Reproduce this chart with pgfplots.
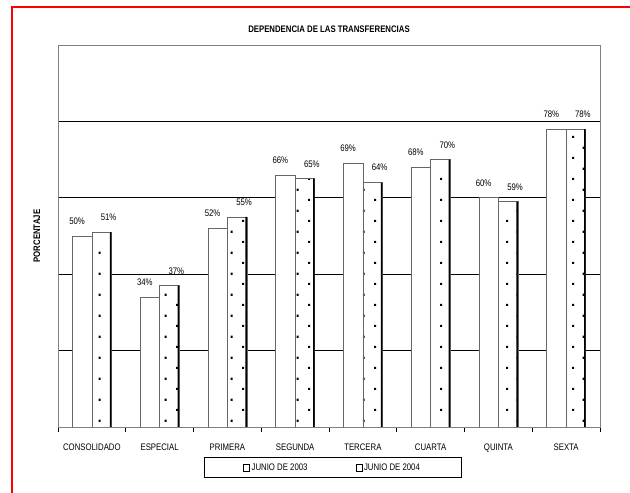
\documentclass[border=0pt]{standalone}
\usepackage{pgfplots}
\pgfplotsset{compat=1.18}
\usetikzlibrary{patterns}
\usepackage{fontspec}
\setmainfont{Liberation Sans}[FakeStretch=0.82]
\pgfdeclarepatternformonly{sparsedots}{\pgfpointorigin}{\pgfpoint{22pt}{20.6pt}}{\pgfpoint{22pt}{20.6pt}}{%
  \pgfpathrectangle{\pgfpoint{0pt}{0pt}}{\pgfpoint{2.2pt}{2.2pt}}%
  \pgfpathrectangle{\pgfpoint{11pt}{10.3pt}}{\pgfpoint{2.2pt}{2.2pt}}%
  \pgfusepath{fill}}
\begin{document}
\fontsize{9.5pt}{11pt}\selectfont
\begin{tikzpicture}
\path[use as bounding box] (0,0) rectangle (630pt,493pt);
\draw[red, line width=2pt] (12pt,-5pt) -- (12pt,486pt) -- (640pt,486pt);
\begin{axis}[
  at={(58pt,66pt)}, anchor=south west,
  scale only axis, width=542pt, height=382pt,
  xmin=-0.5, xmax=7.5, ymin=0, ymax=100,
  axis line style={draw=gray, line width=0.8pt},
  ytick={20,40,60,80}, yticklabels={}, ymajorgrids,
  grid style={black, line width=0.6pt},
  major y tick style={draw=none},
  xtick={0,...,7},
  xticklabels={CONSOLIDADO,ESPECIAL,PRIMERA,SEGUNDA,TERCERA,CUARTA,QUINTA,SEXTA},
  major x tick style={draw=none},
  minor xtick={-0.5,0.5,...,7.5},
  minor x tick style={black, line width=0.6pt},
  minor tick length=5pt, tick align=outside,
  xtick pos=bottom, ytick pos=left,
  xticklabel style={anchor=base, yshift=-19pt},
  ylabel={\bfseries PORCENTAJE},
  ylabel style={at={(axis description cs:-0.039,0.5)}, anchor=center},
  title={\bfseries DEPENDENCIA DE LAS TRANSFERENCIAS},
  title style={at={(axis description cs:0.5,1)}, anchor=base, yshift=6.5pt},
  ybar,
  /pgf/number format/assume math mode=true,
  legend columns=2,
  legend style={at={(axis description cs:0.5065,-0.106)}, anchor=center,
    draw=black, fill=white, line width=0.6pt, inner xsep=39pt, inner ysep=4pt,
    /tikz/every even column/.append style={column sep=46pt},
    font=\fontsize{9.5pt}{11pt}\selectfont},
]
\addplot[bar width=19.5pt, bar shift=-9.75pt, fill=white, draw=gray!80!black, line width=0.6pt,
  nodes near coords={\pgfmathprintnumber{\pgfplotspointmeta}\%},
  nodes near coords style={yshift=8pt, xshift=-5pt, black},
  legend image code/.code={\path[draw=black, fill=white, line width=0.5pt] (0pt,-3.5pt) rectangle (6pt,3.5pt);}]
  coordinates {(0,50) (1,34) (2,52) (3,66) (4,69) (5,68) (6,60) (7,78)};
\addlegendentry{JUNIO DE 2003}
\addplot[bar width=19.5pt, bar shift=9.75pt, fill=white, draw=gray!80!black, line width=0.6pt,
  postaction={pattern=sparsedots},
  nodes near coords={\pgfmathprintnumber{\pgfplotspointmeta}\%},
  nodes near coords style={yshift=8pt, xshift=7pt, black},
  legend image code/.code={\path[draw=black, fill=white, line width=0.5pt] (0pt,-3.5pt) rectangle (6pt,3.5pt);}]
  coordinates {(0,51) (1,37) (2,55) (3,65) (4,64) (5,70) (6,59) (7,78)};
\addlegendentry{JUNIO DE 2004}
\addplot[forget plot, bar width=1.6pt, bar shift=18.7pt, fill=black, draw=none]
  coordinates {(0,51) (1,37) (2,55) (3,65) (4,64) (5,70) (6,59) (7,78)};
\draw[black, line width=0.7pt] (rel axis cs:0,0) -- (rel axis cs:1,0);
\end{axis}
\end{tikzpicture}
\end{document}
